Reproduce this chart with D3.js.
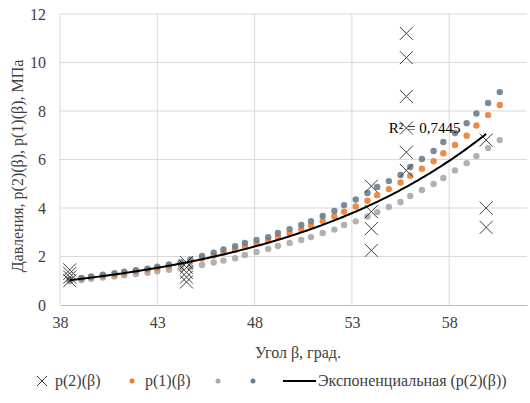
<!DOCTYPE html>
<html>
<head>
<meta charset="utf-8">
<script src="https://cdn.jsdelivr.net/npm/d3@7"></script>
<style>
  body { margin: 0; background: #fff; }
  text { font-family: "Liberation Serif", "Times New Roman", serif; }
</style>
</head>
<body>
<div id="chart"></div>
<script>
// angle values for the dotted series
var beta = [38.5, 39.1, 39.6, 40.2, 40.8, 41.3, 41.9, 42.5, 43.0, 43.6,
            44.2, 44.7, 45.3, 45.9, 46.4, 47.0, 47.5, 48.1, 48.7, 49.2,
            49.8, 50.4, 50.9, 51.5, 52.1, 52.6, 53.2, 53.8, 54.3, 54.9,
            55.5, 56.0, 56.6, 57.2, 57.7, 58.3, 58.9, 59.4, 60.0, 60.6];

// p(1)(beta), orange
var p1 = [1.03, 1.09, 1.15, 1.21, 1.27, 1.33, 1.39, 1.46, 1.53, 1.61,
          1.70, 1.80, 1.92, 2.04, 2.16, 2.28, 2.41, 2.54, 2.67, 2.81,
          2.96, 3.12, 3.28, 3.46, 3.65, 3.85, 4.06, 4.30, 4.53, 4.78,
          5.05, 5.33, 5.62, 5.93, 6.26, 6.60, 6.98, 7.40, 7.83, 8.25];

// unnamed series, light gray (lower curve)
var s3 = [0.98, 1.03, 1.08, 1.13, 1.18, 1.23, 1.28, 1.33, 1.39, 1.45,
          1.51, 1.57, 1.65, 1.75, 1.83, 1.93, 2.06, 2.19, 2.31, 2.43,
          2.56, 2.68, 2.80, 2.97, 3.11, 3.30, 3.45, 3.65, 3.83, 4.04,
          4.25, 4.50, 4.74, 4.99, 5.24, 5.55, 5.85, 6.14, 6.47, 6.80];

// unnamed series, dark gray (upper curve)
var s4 = [1.05, 1.12, 1.18, 1.25, 1.31, 1.37, 1.43, 1.50, 1.58, 1.67,
          1.77, 1.88, 2.02, 2.16, 2.29, 2.42, 2.56, 2.68, 2.80, 2.97,
          3.13, 3.30, 3.46, 3.67, 3.88, 4.12, 4.35, 4.62, 4.87, 5.11,
          5.36, 5.69, 6.02, 6.35, 6.72, 7.09, 7.50, 7.90, 8.33, 8.78];

// p(2)(beta), cross markers
var p2x = [38.5, 38.5, 38.5, 38.5,
           44.5, 44.5, 44.5, 44.5, 44.5,
           54.0, 54.0, 54.0, 54.0,
           55.8, 55.8, 55.8, 55.8, 55.8, 55.8,
           59.9, 59.9, 59.9];
var p2y = [1.45, 1.30, 1.15, 1.00,
           1.75, 1.55, 1.35, 1.15, 0.95,
           4.90, 3.85, 3.15, 2.25,
           11.2, 10.2, 8.6, 7.3, 6.3, 5.55,
           6.8, 4.0, 3.2];

var xTicks = [38, 43, 48, 53, 58];
var yTicks = [0, 2, 4, 6, 8, 10, 12];
var r2Label = "R\u00b2 = 0,7445";

var width = 530, height = 403;
var margin = { left: 60, right: 3, top: 14, bottom: 98 };
var plotW = width - margin.left - margin.right,
    plotH = height - margin.top - margin.bottom;

var textColor = "#404040";
var fontSize = 16;

function translate(x, y){
    return "translate(" + x + "," + y + ")";
}

var svg = d3.select("#chart").append("svg")
    .attr("width", width)
    .attr("height", height);

var g = svg.append("g").attr("transform", translate(margin.left, margin.top));

var xScale = d3.scaleLinear().domain([38, 62]).range([0, plotW]);
var yScale = d3.scaleLinear().domain([0, 12]).range([plotH, 0]);

// gridlines
g.append("g").selectAll("line")
    .data(yTicks.slice(1))
    .enter().append("line")
    .attr("x1", 0).attr("x2", plotW)
    .attr("y1", function(d){ return yScale(d); })
    .attr("y2", function(d){ return yScale(d); })
    .attr("stroke", "#d9d9d9");

g.append("g").selectAll("line")
    .data(xTicks)
    .enter().append("line")
    .attr("y1", 0).attr("y2", plotH)
    .attr("x1", function(d){ return xScale(d); })
    .attr("x2", function(d){ return xScale(d); })
    .attr("stroke", "#d9d9d9");

// axes
var xAxis = d3.axisBottom(xScale).tickValues(xTicks).tickSize(0).tickPadding(12);
var gx = g.append("g").attr("transform", translate(0, plotH)).call(xAxis);
gx.select(".domain").attr("stroke", "#bfbfbf");
gx.selectAll("text").attr("font-size", fontSize).attr("fill", textColor)
    .style("font-family", "Liberation Serif");

var yAxis = d3.axisLeft(yScale).tickValues(yTicks).tickSize(0).tickPadding(14);
var gy = g.append("g").call(yAxis);
gy.select(".domain").remove();
gy.selectAll("text").attr("font-size", fontSize).attr("fill", textColor)
    .style("font-family", "Liberation Serif");

// dotted series
function dots(vals, color){
    g.append("g").selectAll("circle")
        .data(vals)
        .enter().append("circle")
        .attr("cx", function(d, i){ return xScale(beta[i]); })
        .attr("cy", function(d){ return yScale(d); })
        .attr("r", 3.2)
        .attr("fill", color)
        .attr("opacity", 0.9);
}
dots(s3, "#a9a9a9");
dots(p1, "#ed7d31");
dots(s4, "#6a7d8e");

// crosses
g.append("g").selectAll("path")
    .data(p2y)
    .enter().append("path")
    .attr("d", function(d, i){
        var cx = xScale(p2x[i]), cy = yScale(d), s = 6.5;
        return "M" + (cx - s) + "," + (cy - s) + "L" + (cx + s) + "," + (cy + s) +
               "M" + (cx - s) + "," + (cy + s) + "L" + (cx + s) + "," + (cy - s);
    })
    .attr("stroke", "#404040")
    .attr("stroke-width", 1)
    .attr("fill", "none");

// exponential trend for p(2): least squares on ln(y)
var n = p2x.length;
var mx = d3.mean(p2x), my = d3.mean(p2y, function(d){ return Math.log(d); });
var sxy = 0, sxx = 0;
for (var i = 0; i < n; i++){
    sxy += (p2x[i] - mx) * (Math.log(p2y[i]) - my);
    sxx += (p2x[i] - mx) * (p2x[i] - mx);
}
var b = sxy / sxx, a = Math.exp(my - b * mx);
var xs = d3.range(d3.min(p2x), d3.max(p2x) + 0.001, 0.1);
var trendLine = d3.line()
    .x(function(d){ return xScale(d); })
    .y(function(d){ return yScale(a * Math.exp(b * d)); })
    .curve(d3.curveMonotoneX);
g.append("path")
    .datum(xs)
    .attr("d", trendLine)
    .attr("fill", "none")
    .attr("stroke", "#000")
    .attr("stroke-width", 2);

g.append("text")
    .attr("x", xScale(54.9)).attr("y", yScale(7.1))
    .attr("font-size", 15)
    .attr("fill", "#000")
    .text(r2Label);

// axis titles
svg.append("text")
    .attr("x", 298).attr("y", 358)
    .attr("text-anchor", "middle")
    .attr("font-size", fontSize).attr("fill", textColor)
    .text("Угол β, град.");

svg.append("text")
    .attr("transform", translate(23, 166) + " rotate(-90)")
    .attr("text-anchor", "middle")
    .attr("font-size", fontSize).attr("fill", textColor)
    .text("Давления, p(2)(β), p(1)(β), МПа");

// legend
var ly = 381;
var lg = svg.append("g").attr("font-size", fontSize).attr("fill", textColor);
lg.append("path")
    .attr("d", "M37," + (ly - 5) + "L47," + (ly + 5) + "M37," + (ly + 5) + "L47," + (ly - 5))
    .attr("stroke", "#404040").attr("fill", "none");
lg.append("text").attr("x", 55).attr("y", ly + 5).text("p(2)(β)");
lg.append("circle").attr("cx", 132).attr("cy", ly).attr("r", 2.5).attr("fill", "#ed7d31");
lg.append("text").attr("x", 145).attr("y", ly + 5).text("p(1)(β)");
lg.append("circle").attr("cx", 218).attr("cy", ly).attr("r", 2.5).attr("fill", "#a9a9a9");
lg.append("circle").attr("cx", 253).attr("cy", ly).attr("r", 2.5).attr("fill", "#6a7d8e");
lg.append("line").attr("x1", 283).attr("x2", 316).attr("y1", ly).attr("y2", ly)
    .attr("stroke", "#000").attr("stroke-width", 2);
lg.append("text").attr("x", 318).attr("y", ly + 5).text("Экспоненциальная (p(2)(β))");
</script>
</body>
</html>
